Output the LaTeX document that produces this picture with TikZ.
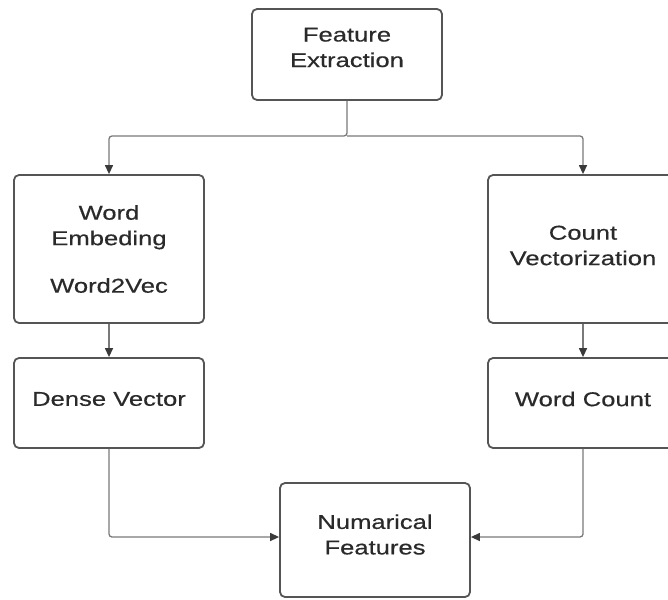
\documentclass[tikz,border=0pt]{standalone}
\usepackage{fontspec}
\setmainfont[FakeStretch=1.28,FakeBold=0.4]{Liberation Sans}
\usetikzlibrary{arrows.meta}
\definecolor{boxc}{HTML}{555555}
\definecolor{linec}{HTML}{7A7A7A}
\definecolor{arrc}{HTML}{3A3A3A}
\definecolor{txtc}{HTML}{2A2A2A}
\begin{document}
\begin{tikzpicture}[x=1pt,y=-1pt,
  box/.style={draw=boxc, line width=1.8pt, rounded corners=5pt, fill=white, minimum width=190pt, inner sep=0pt},
  txt/.style={text=txtc, align=center, font=\fontsize{20}{25.5}\selectfont, inner sep=0pt},
  conn/.style={draw=linec, line width=1.3pt, rounded corners=3pt, -{Triangle[length=9pt,width=8pt,color=arrc]}}]
\useasboundingbox (0,0) rectangle (668,599);
\clip (0,0) rectangle (668,599);
\fill[white] (0,0) rectangle (668,599);

\node[box, minimum height=91pt] (fe) at (347,54.5) {};
\node[txt] (fet) at (347,47.5) {Feature\\Extraction};

\node[box, minimum height=148pt] (we) at (109,249) {};
\node[txt] (wet) at (109,249) {Word\\Embeding\\[22pt]Word2Vec};

\node[box, minimum height=148pt] (cv) at (583,249) {};
\node[txt] (cvt) at (583,245.5) {Count\\Vectorization};

\node[box, minimum height=90pt] (dv) at (109,403) {};
\node[txt] (dvt) at (109,399) {Dense Vector};

\node[box, minimum height=90pt] (wc) at (583,403) {};
\node[txt] (wct) at (583,399) {Word Count};

\node[box, minimum height=114pt] (nf) at (375,540) {};
\node[txt] (nft) at (375,534.5) {Numarical\\Features};

\coordinate (split) at (347,136);
\draw[conn] (fe.south) -- (split) -| (we.north);
\draw[conn] (split) -| (cv.north);
\draw[conn] (we.south) -- (dv.north);
\draw[conn] (cv.south) -- (wc.north);
\draw[conn] (dv.south) |- ([yshift=3pt]nf.west);
\draw[conn] (wc.south) |- ([yshift=3pt]nf.east);
\end{tikzpicture}
\end{document}
